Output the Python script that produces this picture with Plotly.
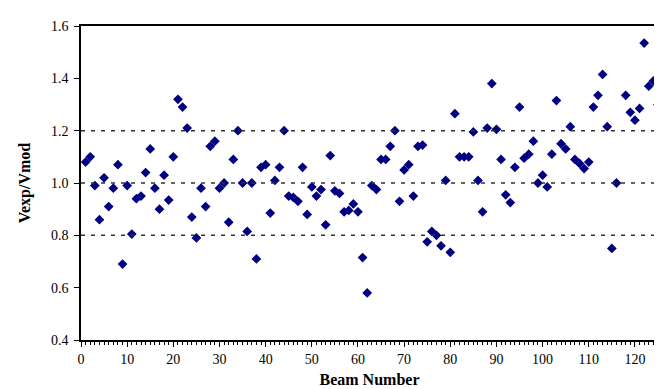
import plotly.graph_objects as go

beam_number = list(range(1, 117)) + list(range(118, 126))
v_ratio = [
    1.08, 1.10, 0.99, 0.86, 1.02, 0.91, 0.98, 1.07, 0.69, 0.99,
    0.805, 0.94, 0.95, 1.04, 1.13, 0.98, 0.90, 1.03, 0.935, 1.10,
    1.32, 1.29, 1.21, 0.87, 0.79, 0.98, 0.91, 1.14, 1.16, 0.98,
    1.00, 0.85, 1.09, 1.20, 1.00, 0.815, 1.00, 0.71, 1.06, 1.07,
    0.885, 1.01, 1.06, 1.20, 0.95, 0.945, 0.93, 1.06, 0.88, 0.985,
    0.95, 0.975, 0.84, 1.105, 0.97, 0.96, 0.89, 0.895, 0.92, 0.89,
    0.715, 0.58, 0.99, 0.975, 1.09, 1.09, 1.14, 1.20, 0.93, 1.05,
    1.07, 0.95, 1.14, 1.145, 0.775, 0.815, 0.80, 0.76, 1.01, 0.735,
    1.265, 1.10, 1.10, 1.10, 1.195, 1.01, 0.89, 1.21, 1.38, 1.205,
    1.09, 0.955, 0.925, 1.06, 1.29, 1.095, 1.11, 1.16, 1.00, 1.03,
    0.985, 1.11, 1.315, 1.15, 1.13, 1.215, 1.09, 1.075, 1.055, 1.08,
    1.29, 1.335, 1.415, 1.215, 0.75, 1.00,
    1.335, 1.27, 1.24, 1.285, 1.535, 1.37, 1.39, 1.30,
]
ref_lines = [0.8, 1.0, 1.2]
x_ticks = list(range(0, 121, 10))
y_ticks = [0.4, 0.6, 0.8, 1.0, 1.2, 1.4, 1.6]

fig = go.Figure()
fig.add_trace(go.Scatter(
    x=beam_number, y=v_ratio, mode="markers",
    marker=dict(symbol="diamond", size=7.5, color="#000080",
                line=dict(width=0)),
    cliponaxis=False, showlegend=False,
))
for v in ref_lines:
    fig.add_hline(y=v, line=dict(color="#333333", width=1.5, dash="4px,6px"))

font = dict(family="Liberation Serif, Times New Roman, serif", size=14, color="black")
fig.update_layout(
    width=662, height=389,
    margin=dict(l=73, r=10, t=18, b=57),
    paper_bgcolor="white", plot_bgcolor="white",
    font=font,
    xaxis=dict(
        range=[0, 125], tickvals=x_ticks, showgrid=False, zeroline=False,
        showline=True, linecolor="black", linewidth=1.5, mirror=True,
        ticks="outside", ticklen=5, tickcolor="black",
        minor=dict(dtick=1, ticks="outside", ticklen=3, tickcolor="black", showgrid=False),
        title=dict(text="<b>Beam Number</b>", font=dict(size=16), standoff=8),
    ),
    yaxis=dict(
        range=[0.4, 1.6], tickvals=y_ticks, tickformat=".1f",
        showgrid=False, zeroline=False,
        showline=True, linecolor="black", linewidth=1.5, mirror=True,
        ticks="outside", ticklen=5, tickcolor="black", ticklabelstandoff=3,
        title=dict(text="<b>Vexp/Vmod</b>", font=dict(size=16), standoff=16),
    ),
)
fig.write_html("out.html")
